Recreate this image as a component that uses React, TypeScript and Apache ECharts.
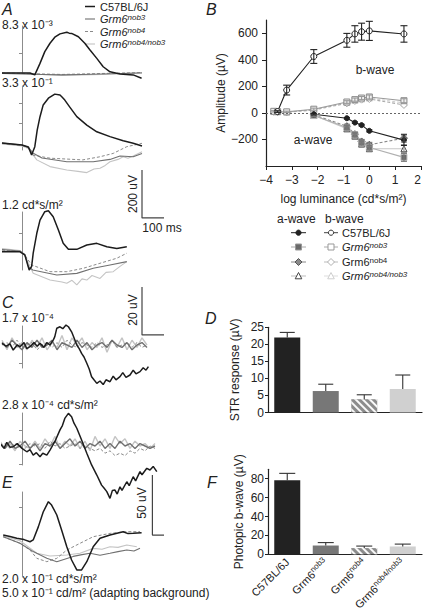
import React, { useEffect, useRef } from 'react';
import * as echarts from 'echarts';

const FONT = "'Liberation Sans', Arial, Helvetica, sans-serif";
const INK = '#222222';
const C_C57 = '#1c1c1c';
const C_NOB3 = '#707070';
const C_NOB4 = '#8a8a8a';
const C_NOBX = '#c4c4c4';

// ---------- Panel A : scotopic ERGs [time ms, amplitude µV] ----------
const A1_C57 = [[-50, 0], [20, 0], [32, -8], [45, 40], [57, 89], [70, 124], [82, 149], [95, 163], [112, 170], [118, 166], [124, 165], [141, 151], [157, 124], [170, 96], [187, 61], [203, 26], [220, 5], [245, -4], [278, -8], [299, -22]];
const A1_NOB3 = [[-50, -2], [0, -4], [50, -6], [100, -8], [150, -6], [200, -4], [250, -2], [300, 0]];
const A1_NOB4 = [[-50, 0], [0, -2], [50, -4], [100, -6], [150, -4], [200, -2], [250, 0], [300, 2]];
const A1_NOBX = [[-50, 2], [0, 0], [50, -6], [100, -10], [150, -8], [200, -6], [250, -2], [300, 2]];

const A2_C57 = [[-50, 8], [-25, 4], [0, 0], [16, -8], [24, -42], [32, -7], [38, 62], [45, 118], [53, 167], [66, 195], [82, 212], [95, 208], [100, 200], [107, 187], [120, 157], [137, 118], [162, 83], [187, 55], [220, 35], [253, 18], [278, 7], [300, -4]];
const A2_NOB3 = [[-50, 8], [0, 0], [16, -10], [27, -33], [50, -54], [112, -70], [178, -70], [220, -60], [245, -46], [278, -49], [300, -35]];
const A2_NOB4 = [[-50, 6], [0, -2], [16, -12], [27, -42], [70, -55], [152, -62], [195, -49], [228, -35], [262, -7], [300, 7]];
const A2_NOBX = [[-50, 4], [0, -4], [16, -15], [37, -62], [70, -90], [112, -104], [140, -110], [162, -115], [180, -100], [195, -97], [208, -85], [220, -70], [240, -60], [253, -49], [265, -55], [278, -46], [300, -28]];

const A3_C57 = [[-50, 1], [-5, 1], [7, -12], [18, -75], [24, -61], [28, -5], [37, 78], [45, 133], [57, 168], [66, 172], [78, 147], [91, 92], [103, 36], [116, 11], [137, 11], [162, 29], [187, 36], [212, 22], [237, 15], [262, 22]];
const A3_NOB3 = [[-50, 10], [-5, 4], [7, -10], [16, -61], [27, -75], [87, -96], [137, -89], [178, -68], [220, -54], [262, -40]];
const A3_NOB4 = [[-50, 8], [-5, 2], [7, -12], [24, -54], [70, -82], [112, -82], [153, -68], [195, -47], [237, -26], [262, -5]];
const A3_NOBX = [[-50, 14], [-5, 6], [7, -15], [28, -89], [70, -117], [100, -125], [112, -130], [125, -118], [137, -137], [150, -112], [162, -117], [175, -98], [195, -110], [210, -85], [228, -82], [245, -60], [262, -40]];

// ---------- Panel C : STR [time ms, amplitude µV] ----------
const C1_C57 = [[-50, 0.7], [-40, -0.5], [-30, 0.5], [-22, -2.1], [-12, 0], [-5, -0.7], [5, 1], [12, -1.5], [20, -0.7], [30, 1], [38, -0.5], [45, 0.7], [55, -1], [62, 1], [70, 0], [78, 2], [82, 3.5], [87, 7], [95, 7.6], [102, 6.8], [110, 8.3], [116, 7.6], [124, 5.5], [130, 3], [137, 0], [143, -1.5], [149, -3.5], [155, -5], [162, -7.6], [168, -10], [174, -13.2], [180, -14.5], [187, -16], [195, -15], [203, -16.5], [210, -14.5], [220, -15.3], [228, -13], [235, -14.5], [245, -13.2], [252, -11.5], [260, -13.5], [270, -12.5], [278, -10.5], [285, -12], [295, -11.1], [303, -9.5], [310, -10.5], [316, -9]];
const C1_T = [-50, -37.5, -25, -12.5, 0, 12.5, 25, 37.5, 50, 62.5, 75, 87.5, 100, 112.5, 125, 137.5, 150, 162.5, 175, 187.5, 200, 212.5, 225, 237.5, 250, 262.5, 275, 287.5, 300, 312.5];
const C1_NOB3 = [1, -1, 2, 0, -2, 1, -1, 2, -1, 0, 2, -2, 1, 0, -1, 2, -1, 1, -2, 0, 1, -1, 2, 0, -1, 1, -2, 0, 1, -1];
const C1_NOB4 = [0, 1, -1, 2, -1, 0, 1, -2, 0, 1, -1, 1, -1, 2, 0, -1, 1, 0, -1, 1, -1, 0, 2, -1, 0, 1, -1, 1, -1, 0];
const C1_NOBX = [2, -2, 3, -1, 1, -2, 2, -1, 3, -2, 1, -1, 4, -2, 3, 0, 3, -2, 1, -1, 3, -3, 2, -1, 3, -2, 2, -1, 3, 0];

const C2_C57 = [[-55, 1.1], [-45, -1], [-38, 1.5], [-30, -0.5], [-22, -0.3], [-12, 1], [0, -1], [12, -2.4], [20, -1.5], [28, -3.8], [36, -2.8], [45, -4.5], [52, -3], [62, -3.8], [70, -1.7], [82, 1.8], [95, 6.7], [101, 8.5], [107, 11.5], [116, 13.6], [124, 12.2], [130, 9.5], [137, 7.4], [149, 2.5], [162, -3], [174, -7.9], [187, -12.1], [199, -16.3], [205, -17.5], [212, -19], [220, -21.8], [226, -18.5], [232, -18.3], [238, -20], [245, -17], [250, -18.5], [262, -14.9], [268, -16.5], [278, -12.8], [284, -14.5], [295, -10.7], [300, -12], [312, -9.3], [320, -10], [328, -8.5], [337, -10.7]];
const C2_T = [-55, -42.5, -30, -17.5, -5, 7.5, 20, 32.5, 45, 57.5, 70, 82.5, 95, 107.5, 120, 132.5, 145, 157.5, 170, 182.5, 195, 207.5, 220, 232.5, 245, 257.5, 270, 282.5, 295, 307.5, 320, 332.5];
const C2_NOB3 = [1, -1, 2, -1, 0, 2, -1, 1, -2, 1, 0, 2, -1, 1, 3, 0, 2, -1, 1, 0, 2, -1, 1, -1, 2, 0, 1, -1, 1, 0, -1, 0];
const C2_NOB4 = [0, 1, -1, 1, 0, -1, 1, 0, 1, -1, 2, 0, 1, -1, 0, 1, -1, 0, -1, -2, -1, -3, -2, -4, -3, -4, -2, -3, -1, -2, 0, -1];
const C2_NOBX = [2, -1, 1, -2, 2, 0, -1, 2, -1, 3, 0, 4, -1, 2, 0, 3, -1, 2, -2, 4, 0, 3, -1, 4, 1, 3, -1, 2, 0, 1, -1, 1];

// ---------- Panel E : photopic ERG [time ms, amplitude µV] ----------
const E_C57 = [[-47, 0.8], [-30, -0.5], [-13, -1.9], [5, -3], [20, -4.8], [28, -3.3], [41, 7.8], [53, 20], [66, 28.6], [74, 25.8], [87, 17.5], [99, 5], [112, -8.9], [124, -20], [137, -28.3], [149, -28.3], [162, -21.4], [178, -8.9], [195, -1.9], [220, 0.8], [240, 2.5], [253, 3.6], [265, 2], [278, 2.2], [299, 2.8]];
const E_NOB3 = [[-47, -0.6], [-5, -6], [28, -13], [62, -18.6], [87, -21.4], [128, -17], [150, -15.5], [170, -14.4], [195, -16], [220, -14.4], [240, -13], [262, -11.7], [280, -12.5], [295, -10.3]];
const E_NOB4 = [[-47, -0.6], [-5, -6.1], [20, -11.7], [37, -18.6], [62, -21.4], [87, -18.6], [112, -11.7], [145, -6.1], [178, -0.6], [220, 2.2], [262, 3.6], [295, 3.6]];
const E_NOBX = [[-47, 0], [-5, -4], [37, -14.4], [70, -16.7], [112, -15.8], [145, -14.4], [178, -10.3], [200, -11], [220, -8.9], [240, -9.5], [262, -7.5], [287, -8.9]];

// scale bars
const SCALE_MS = 100;
const SCALE_A_UV = 200;
const SCALE_C_UV = 20;
const SCALE_E_UV = 50;

// ---------- Panel B : intensity-response ----------
const LUM_B_C57 = [-3.55, -3.2, -2.15, -0.87, -0.56, -0.3, 0, 1.34];
const BW_C57 = [10, 172, 425, 547, 595, 612, 618, 595];
const BW_C57_SD = [6, 37, 52, 52, 62, 64, 72, 62];
const LUM_B = [-3.7, -3.55, -3.2, -2.15, -0.87, -0.56, -0.3, 0, 1.34];
const BW_NOB3 = [12, 10, 8, 28, 82, 100, 112, 120, 92];
const BW_NOB4 = [8, 6, 4, 22, 72, 90, 100, 105, 60];
const BW_NOBX = [10, 8, 6, 25, 78, 95, 105, 112, 75];
const BW_GRAY_SD = [5, 5, 5, 8, 10, 12, 12, 15, 15];
const LUM_A = [-2.15, -0.87, -0.56, -0.3, 0, 1.34];
const AW_C57 = [-10, -40, -73, -92, -135, -205];
const AW_NOB3 = [-20, -110, -165, -225, -260, -335];
const AW_NOB4 = [-15, -100, -160, -215, -240, -190];
const AW_NOBX = [-18, -120, -175, -235, -270, -270];
const AW_C57_SD = [5, 6, 6, 6, 8, 40];
const AW_GRAY_SD = [8, 15, 15, 15, 18, 30];
const B_Y_TICKS = [-200, 0, 200, 400, 600];

// ---------- Panels D / F : bars ----------
const GENOTYPES = ['C57BL/6J', 'Grm6nob3', 'Grm6nob4', 'Grm6nob4/nob3'];
const STR = [22, 6.3, 3.9, 6.9];
const STR_ERR = [1.5, 2.0, 1.3, 4.1];
const PHOT = [78.5, 9.3, 6.6, 8.3];
const PHOT_ERR = [7.2, 3.1, 2.1, 2.5];
const PHOT_TICKS = [0, 20, 40, 60, 80];

// layout of the trace strips (pixels): baseline, px per µV, vertical marker extent
const TRACE_GRIDS = [
  { base: 73, ppu: 0.24, top: 26, bottom: 73, ticks: [83] },
  { base: 145, ppu: 0.24, top: 86, bottom: 150, ticks: [92, 175] },
  { base: 252, ppu: 0.24, top: 212, bottom: 270, ticks: [80] },
  { base: 345, ppu: 2.4, top: 326, bottom: 368, ticks: [-7.5] },
  { base: 446, ppu: 2.4, top: 413, bottom: 465, ticks: [6.7, -7.5] },
  { base: 536, ppu: 1.2, top: 492, bottom: 577, ticks: [24] },
];

const pair = (t: number[], v: number[]) => v.map((y, i) => [t[i], y]);
const scaleBar = (g: number, tAnchor: number, vTop: number, uv: number) => ({
  type: 'line', xAxisIndex: g, yAxisIndex: g, silent: true, clip: false, symbol: 'none',
  lineStyle: { color: '#444', width: 1.2 },
  data: [[tAnchor, vTop], [tAnchor, vTop - uv], [tAnchor + SCALE_MS, vTop - uv]],
});

const trace = (g: number, data: number[][], color: string, width: number, dashed = false) => ({
  type: 'line', xAxisIndex: g, yAxisIndex: g, data, symbol: 'none', showSymbol: false,
  clip: false, silent: true,
  lineStyle: { color, width, type: dashed ? [3, 2] : 'solid' },
});

const errRender = (capHalf: number, lowCap: boolean) => (params: any, api: any) => {
  const x = api.value(0);
  const a = api.coord([x, api.value(1)]);
  const b = api.coord([x, api.value(2)]);
  const st = { stroke: api.visual('color'), lineWidth: 1.1 };
  const children: any[] = [
    { type: 'line', shape: { x1: a[0], y1: a[1], x2: b[0], y2: b[1] }, style: st },
    { type: 'line', shape: { x1: b[0] - capHalf, y1: b[1], x2: b[0] + capHalf, y2: b[1] }, style: st },
  ];
  if (lowCap) children.push({ type: 'line', shape: { x1: a[0] - capHalf, y1: a[1], x2: a[0] + capHalf, y2: a[1] }, style: st });
  return { type: 'group', children };
};

const errSeries = (g: number, xs: any[], ys: number[], sd: number[], color: string, cap: number, both: boolean) => ({
  type: 'custom', xAxisIndex: g, yAxisIndex: g, silent: true, z: 5,
  itemStyle: { color },
  renderItem: errRender(cap, both),
  encode: { x: 0, y: [1, 2] },
  data: ys.map((y, i) => [xs[i], both ? y - sd[i] : y, y + sd[i]]),
});

const supRich = (size: number, italic: boolean, lh: number, color = INK) => ({
  m: { fontSize: size, fontStyle: italic ? 'italic' : 'normal', fontFamily: FONT, color, lineHeight: lh },
  s: { fontSize: Math.round(size * 0.7), fontStyle: italic ? 'italic' : 'normal', fontFamily: FONT, color, verticalAlign: 'top', lineHeight: Math.round(size * 0.7) },
});
const genoRich = (name: string) => (name.startsWith('Grm6') ? `{m|Grm6}{s|${name.slice(4)}}` : `{m|${name}}`);

const txt = (text: string, x: number, y: number, size = 12, extra: any = {}) => ({
  type: 'text', x, y, silent: true, rotation: extra.rotation || 0,
  style: {
    text, fill: extra.color || INK, font: `${extra.italic ? 'italic ' : ''}${size}px ${FONT}`,
    align: extra.align || 'left', verticalAlign: extra.valign || 'middle', rich: extra.rich,
    lineHeight: extra.lineHeight,
  },
});

function buildOption() {
  const grid: any[] = [];
  const xAxis: any[] = [];
  const yAxis: any[] = [];
  TRACE_GRIDS.forEach((g) => {
    grid.push({ left: 2, width: 160, top: g.top, height: g.bottom - g.top });
    xAxis.push({ type: 'value', min: -50, max: 350, show: false, gridIndex: grid.length - 1 });
    yAxis.push({
      type: 'value', gridIndex: grid.length - 1,
      min: (g.base - g.bottom) / g.ppu, max: (g.base - g.top) / g.ppu,
      axisLine: { show: true, onZero: true, lineStyle: { color: '#8c8c8c', width: 1 } },
      axisTick: { show: true, customValues: g.ticks, length: 3, lineStyle: { color: '#8c8c8c' } },
      axisLabel: { show: false }, splitLine: { show: false },
    });
  });
  // B (index 6)
  grid.push({ left: 266, right: 0, top: 20, height: 146 });
  xAxis.push({
    type: 'value', gridIndex: 6, min: -4, max: 2, interval: 1,
    axisLine: { onZero: false, lineStyle: { color: INK, width: 1.2 } },
    axisTick: { length: 4, lineStyle: { color: INK } },
    axisLabel: { color: INK, fontSize: 12, fontFamily: FONT, margin: 8, alignMaxLabel: 'right', formatter: (v: number) => String(v).replace('-', '\u2212') },
    splitLine: { show: false },
    name: 'log luminance (cd*s/m\u00b2)', nameLocation: 'middle', nameGap: 27,
    nameTextStyle: { color: INK, fontSize: 12, fontFamily: FONT },
  });
  yAxis.push({
    type: 'value', gridIndex: 6, min: -400, max: 700,
    axisLine: { show: true, onZero: false, lineStyle: { color: INK, width: 1.2 } },
    axisTick: { show: true, length: 4, customValues: B_Y_TICKS, lineStyle: { color: INK } },
    axisLabel: { color: INK, fontSize: 12, fontFamily: FONT, margin: 8, customValues: B_Y_TICKS, formatter: (v: number) => String(v).replace('-', '\u2212') },
    splitLine: { show: false },
    name: 'Amplitude (\u00b5V)', nameLocation: 'middle', nameGap: 38,
    nameTextStyle: { color: INK, fontSize: 12, fontFamily: FONT },
  });
  // D (index 7)
  grid.push({ left: 268, right: 2, top: 327.3, height: 85.2 });
  xAxis.push({
    type: 'category', gridIndex: 7, data: GENOTYPES,
    axisLine: { lineStyle: { color: INK, width: 1.2 } },
    axisTick: { alignWithLabel: true, length: 4, lineStyle: { color: INK } },
    axisLabel: { show: false },
  });
  yAxis.push({
    type: 'value', gridIndex: 7, min: 0, max: 25, interval: 5,
    axisLine: { show: true, lineStyle: { color: INK, width: 1.2 } },
    axisTick: { show: true, length: 3, lineStyle: { color: INK } },
    axisLabel: { color: INK, fontSize: 12, fontFamily: FONT, margin: 4 },
    splitLine: { show: false },
    name: 'STR response (\u00b5V)', nameLocation: 'middle', nameGap: 27,
    nameTextStyle: { color: INK, fontSize: 12, fontFamily: FONT },
  });
  // F (index 8)
  grid.push({ left: 268, right: 2, top: 469.3, height: 85 });
  xAxis.push({
    type: 'category', gridIndex: 8, data: GENOTYPES,
    axisLine: { lineStyle: { color: INK, width: 1.2 } },
    axisTick: { alignWithLabel: true, length: 4, lineStyle: { color: INK } },
    axisLabel: { rotate: 45, interval: 0, margin: 6, formatter: genoRich, rich: supRich(11, false, 13) },
  });
  yAxis.push({
    type: 'value', gridIndex: 8, min: 0, max: 90,
    axisLine: { show: true, lineStyle: { color: INK, width: 1.2 } },
    axisTick: { show: true, length: 3, customValues: PHOT_TICKS, lineStyle: { color: INK } },
    axisLabel: { color: INK, fontSize: 12, fontFamily: FONT, margin: 4, customValues: PHOT_TICKS },
    splitLine: { show: false },
    name: 'Photopic b-wave (\u00b5V)', nameLocation: 'middle', nameGap: 23,
    nameTextStyle: { color: INK, fontSize: 12, fontFamily: FONT },
  });

  const series: any[] = [];
  const traceSets = [
    [A1_NOBX, A1_NOB4, A1_NOB3, A1_C57],
    [A2_NOBX, A2_NOB4, A2_NOB3, A2_C57],
    [A3_NOBX, A3_NOB4, A3_NOB3, A3_C57],
    [pair(C1_T, C1_NOBX), pair(C1_T, C1_NOB4), pair(C1_T, C1_NOB3), C1_C57],
    [pair(C2_T, C2_NOBX), pair(C2_T, C2_NOB4), pair(C2_T, C2_NOB3), C2_C57],
    [E_NOBX, E_NOB4, E_NOB3, E_C57],
  ];
  traceSets.forEach((set, g) => {
    const thick = g === 3 || g === 4;
    series.push(trace(g, set[0], C_NOBX, thick ? 1.4 : 1.1));
    series.push(trace(g, set[1], C_NOB4, 1, true));
    series.push(trace(g, set[2], C_NOB3, thick ? 1.4 : 1.1));
    series.push(trace(g, set[3], C_C57, 1.5));
  });
  series.push(scaleBar(1, 300, -104, SCALE_A_UV));
  series.push(scaleBar(3, 300, 24.2, SCALE_C_UV));
  series.push(scaleBar(5, 326, 50.8, SCALE_E_UV));

  // Panel B
  const bLine = (xs: number[], ys: number[], color: string, dashed: boolean, symbol: string, fill: string, border: string, size = 6) => ({
    type: 'line', xAxisIndex: 6, yAxisIndex: 6, data: ys.map((y, i) => [xs[i], y]), symbol, symbolSize: size,
    showSymbol: true, silent: true, z: 3,
    lineStyle: { color, width: 1.1, type: dashed ? [3, 2] : 'solid' },
    itemStyle: { color: fill, borderColor: border, borderWidth: 1 },
  });
  series.push(errSeries(6, LUM_A, AW_NOBX, AW_GRAY_SD, '#888', 3, true));
  series.push(errSeries(6, LUM_A, AW_NOB3, AW_GRAY_SD, '#777', 3, true));
  series.push(errSeries(6, LUM_A, AW_NOB4, AW_GRAY_SD, '#777', 3, true));
  series.push(errSeries(6, LUM_B, BW_NOB3, BW_GRAY_SD, '#999', 3, true));
  series.push(bLine(LUM_B, BW_NOBX, '#cfcfcf', true, 'triangle', '#fff', '#c8c8c8', 6));
  series.push(bLine(LUM_B, BW_NOB4, '#aaaaaa', true, 'diamond', '#fff', '#a8a8a8', 7));
  series.push(bLine(LUM_B, BW_NOB3, '#9a9a9a', false, 'rect', '#f0f0f0', '#8a8a8a', 6));
  series.push(bLine(LUM_A, AW_NOBX, '#c8c8c8', false, 'triangle', '#fff', '#444', 6));
  series.push(bLine(LUM_A, AW_NOB4, '#8a8a8a', true, 'diamond', '#8a8a8a', '#555', 7));
  series.push(bLine(LUM_A, AW_NOB3, '#b0b0b0', false, 'rect', '#6a6a6a', '#bbb', 6));
  series.push(bLine(LUM_A, AW_C57, INK, false, 'circle', INK, INK, 5));
  const bC57: any = bLine(LUM_B_C57, BW_C57, INK, false, 'circle', '#fff', INK, 6);
  bC57.markLine = {
    silent: true, symbol: ['none', 'none'], label: { show: false },
    lineStyle: { type: [2, 2], color: '#666', width: 1 }, data: [{ yAxis: 0 }],
  };
  series.push(bC57);
  series.push(errSeries(6, LUM_A, AW_C57, AW_C57_SD, INK, 3, true));
  series.push(errSeries(6, LUM_B_C57, BW_C57, BW_C57_SD, INK, 3.5, true));

  // Panels D & F
  const barColors = ['#222222', '#777777', '#8c8c8c', '#d0d0d0'];
  const hatch = {
    symbol: 'rect', symbolSize: 1, dashArrayX: [1, 0], dashArrayY: [2, 2.5],
    rotation: Math.PI / 4, color: 'rgba(255,255,255,0.95)',
  };
  const barData = (vals: number[]) => vals.map((v, i) => ({
    value: v,
    itemStyle: i === 2 ? { color: barColors[i], decal: hatch } : { color: barColors[i] },
  }));
  series.push({ type: 'bar', xAxisIndex: 7, yAxisIndex: 7, data: barData(STR), barWidth: 26, silent: true });
  series.push({ type: 'bar', xAxisIndex: 8, yAxisIndex: 8, data: barData(PHOT), barWidth: 26, silent: true });
  series.push(errSeries(7, [0, 1, 2, 3], STR, STR_ERR, '#333', 7.5, false));
  series.push(errSeries(8, [0, 1, 2, 3], PHOT, PHOT_ERR, '#333', 8, false));

  const gRich = supRich(11, true, 11);
  const gRichB = supRich(11, true, 11);
  const gRichBUp = supRich(11, false, 11);
  const graphic: any[] = [
    txt('A', 2, 9, 16, { italic: true }),
    txt('B', 206, 9, 16, { italic: true }),
    txt('C', 2, 302, 16, { italic: true }),
    txt('D', 205, 318, 16, { italic: true }),
    txt('E', 2, 482, 16, { italic: true }),
    txt('F', 207, 482, 16, { italic: true }),
    txt('8.3 x 10\u207b\u00b3', 2, 25),
    txt('3.3 x 10\u207b\u00b9', 2, 83),
    txt('1.2 cd*s/m\u00b2', 2, 205),
    txt('1.7 x 10\u207b\u2074', 2, 318),
    txt('2.8 x 10\u207b\u2074 cd*s/m\u00b2', 2, 405),
    txt('2.0 x 10\u207b\u00b9 cd*s/m\u00b2', 2, 579),
    txt('5.0 x 10\u207b\u00b9 cd/m\u00b2 (adapting background)', 2, 593),
    txt('200 uV', 133, 194, 12, { rotation: Math.PI / 2, align: 'center' }),
    txt('100 ms', 162, 228, 12, { align: 'center' }),
    txt('20 uV', 133, 310, 12, { rotation: Math.PI / 2, align: 'center' }),
    txt('50 uV', 142, 503, 12, { rotation: Math.PI / 2, align: 'center' }),
    txt('b-wave', 375, 70, 12, { align: 'center' }),
    txt('a-wave', 313, 140, 12, { align: 'center' }),
    txt('a-wave', 277, 219, 12),
    txt('b-wave', 325, 219, 12),
  ];
  // A legend
  const aRows = [6.5, 19, 31.5, 44];
  const aStyles = [
    { c: C_C57, w: 1.5, d: null },
    { c: C_NOB3, w: 1.1, d: null },
    { c: C_NOB4, w: 1, d: [3, 2] },
    { c: C_NOBX, w: 1.1, d: null },
  ];
  GENOTYPES.forEach((name, i) => {
    graphic.push({ type: 'line', silent: true, shape: { x1: 85, y1: aRows[i], x2: 95, y2: aRows[i] }, style: { stroke: aStyles[i].c, lineWidth: aStyles[i].w, lineDash: aStyles[i].d } });
    graphic.push(txt(i === 0 ? name : genoRich(name), 100, aRows[i], 11, { rich: i === 0 ? undefined : gRich, lineHeight: 11 }));
  });
  // B legend
  const bRows = [232.7, 247, 262, 276];
  const aLeg = [
    { line: INK, shape: 'circle', fill: INK, stroke: INK },
    { line: '#aaa', shape: 'rect', fill: '#6a6a6a', stroke: '#999' },
    { line: '#888', shape: 'diamond', fill: '#8a8a8a', stroke: '#555' },
    { line: '#bbb', shape: 'triangle', fill: '#fff', stroke: '#444' },
  ];
  const bLeg = [
    { line: '#444', shape: 'circle', fill: '#fff', stroke: '#333' },
    { line: '#aaa', shape: 'rect', fill: '#fff', stroke: '#999' },
    { line: '#bbb', shape: 'diamond', fill: '#fff', stroke: '#b0b0b0' },
    { line: '#ddd', shape: 'triangle', fill: '#fff', stroke: '#cfcfcf' },
  ];
  const marker = (m: any, cx: number, cy: number) => {
    const style = { fill: m.fill, stroke: m.stroke, lineWidth: 1 };
    if (m.shape === 'circle') return { type: 'circle', silent: true, shape: { cx, cy, r: 2.6 }, style };
    if (m.shape === 'rect') return { type: 'rect', silent: true, shape: { x: cx - 3, y: cy - 3, width: 6, height: 6 }, style };
    if (m.shape === 'diamond') return { type: 'polygon', silent: true, shape: { points: [[cx, cy - 3.5], [cx + 3.5, cy], [cx, cy + 3.5], [cx - 3.5, cy]] }, style };
    return { type: 'polygon', silent: true, shape: { points: [[cx, cy - 3.5], [cx + 3.3, cy + 2.8], [cx - 3.3, cy + 2.8]] }, style };
  };
  bRows.forEach((y, i) => {
    graphic.push({ type: 'line', silent: true, shape: { x1: 291, y1: y, x2: 306, y2: y }, style: { stroke: aLeg[i].line, lineWidth: 1 } });
    graphic.push(marker(aLeg[i], 298.5, y));
    graphic.push({ type: 'line', silent: true, shape: { x1: 324, y1: y, x2: 338, y2: y }, style: { stroke: bLeg[i].line, lineWidth: 1 } });
    graphic.push(marker(bLeg[i], 331, y));
    const name = GENOTYPES[i];
    graphic.push(txt(i === 0 ? name : genoRich(name), 342, y, 11, { rich: i === 0 ? undefined : (i === 2 ? gRichBUp : gRichB), lineHeight: 11 }));
  });

  return {
    animation: false,
    backgroundColor: '#ffffff',
    textStyle: { fontFamily: FONT },
    grid, xAxis, yAxis, series, graphic,
  };
}

export default function App() {
  const ref = useRef<HTMLDivElement>(null);
  useEffect(() => {
    if (!ref.current) return;
    const chart = echarts.init(ref.current, undefined, { renderer: 'svg' });
    chart.setOption(buildOption() as any);
    return () => chart.dispose();
  }, []);
  return <div ref={ref} style={{ position: 'fixed', left: 0, top: 0, width: 424, height: 614, background: '#fff' }} />;
}
